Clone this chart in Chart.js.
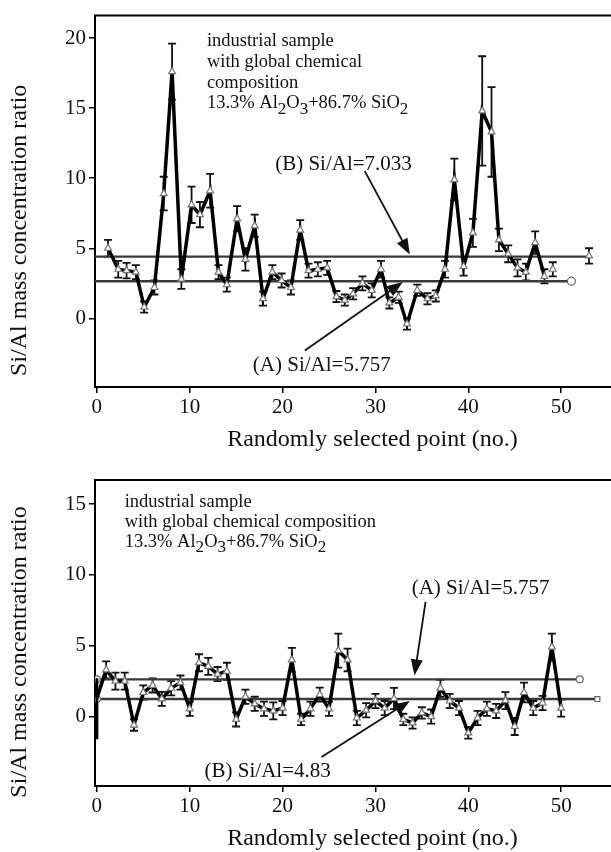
<!DOCTYPE html>
<html>
<head>
<meta charset="utf-8">
<script src="https://cdn.jsdelivr.net/npm/chart.js@4/dist/chart.umd.min.js"></script>
<style>
  html, body { margin: 0; padding: 0; background: #fff; overflow: hidden; }
  .panel { position: absolute; left: 0; }
</style>
</head>
<body>
<div class="panel" style="top:0"><canvas id="topChart" width="660" height="460"></canvas></div>
<div class="panel" style="top:460px"><canvas id="bottomChart" width="660" height="392"></canvas></div>
<script>
// tick labels
const xTicks = [0, 10, 20, 30, 40, 50];
const topYTicks = [0, 5, 10, 15, 20];
const bottomYTicks = [0, 5, 10, 15];

// upper panel: point number (as placed on the axis), Si/Al ratio, error
const topPoint = [1.2, 2.3, 3.2, 4.2, 5.1, 6.2, 7.2, 8.1, 9.1, 10.2,
  11.1, 12.2, 13.1, 14.0, 15.1, 16.0, 17.0, 17.9, 18.9, 19.9,
  20.9, 21.9, 22.8, 23.8, 24.8, 25.8, 26.7, 27.6, 28.6, 29.6,
  30.6, 31.5, 32.5, 33.4, 34.5, 35.6, 36.5, 37.5, 38.5, 39.5,
  40.5, 41.5, 42.5, 43.3, 44.3, 45.3, 46.2, 47.2, 48.2];
const topRatio = [5.0, 3.5, 3.4, 3.3, 0.8, 2.2, 8.9, 17.6, 2.8, 8.1,
  7.4, 9.1, 3.3, 2.4, 7.1, 4.2, 6.6, 1.4, 3.3, 2.7,
  2.2, 6.3, 3.4, 3.5, 3.6, 1.55, 1.3, 1.75, 2.5, 2.0,
  3.5, 1.1, 1.5, -0.4, 2.0, 1.4, 1.6, 3.5, 9.9, 3.7,
  6.1, 14.8, 13.3, 5.6, 4.6, 3.6, 3.3, 5.4, 3.0];
const topErr = [0.6, 0.6, 0.55, 0.5, 0.4, 0.5, 1.2, 2.0, 0.7, 1.3,
  0.9, 1.2, 0.5, 0.5, 0.9, 0.8, 0.8, 0.5, 0.5, 0.5,
  0.5, 0.7, 0.5, 0.5, 0.5, 0.4, 0.4, 0.4, 0.5, 0.5,
  0.6, 0.4, 0.4, 0.4, 0.4, 0.4, 0.4, 0.6, 1.5, 0.65,
  1.0, 3.9, 3.2, 0.8, 0.6, 0.6, 0.6, 0.8, 0.5];
const topLoosePoint = [49.1, 53.0];
const topLooseRatio = [3.5, 4.45];
const topLooseErr = [0.5, 0.55];
const topRefLevel = [2.65, 4.4];   // (A), (B)
const topRefEnd = [51.1, 53.0];

// lower panel
const bottomPoint = [0, 1, 2, 3, 4, 5, 6, 7, 8, 9, 10,
  11, 12, 13, 14, 15, 16, 17, 18, 19, 20,
  21, 22, 23, 24, 25, 26, 27, 28, 29, 30,
  31, 32, 33, 34, 35, 36, 37, 38, 39, 40,
  41, 42, 43, 44, 45, 46, 47, 48, 49, 50];
const bottomRatio = [1.3, 3.3, 2.5, 2.5, -0.6, 1.7, 2.2, 1.25, 2.0, 2.4, 0.55,
  3.8, 3.55, 3.0, 3.2, -0.2, 1.4, 0.9, 0.55, 0.4, 0.6,
  4.0, -0.2, 0.55, 1.55, 0.55, 4.65, 4.0, -0.1, 0.45, 1.1,
  0.6, 1.27, -0.2, -0.45, 0.26, 0.0, 2.0, 1.1, 0.6, -1.15,
  -0.1, 0.55, 0.4, 1.13, -0.7, 1.7, 0.6, 0.96, 4.9, 0.6];
const bottomErr = [0, 0.6, 0.6, 0.6, 0.4, 0.5, 0.5, 0.5, 0.5, 0.5, 0.5,
  0.6, 0.6, 0.5, 0.6, 0.5, 0.5, 0.5, 0.5, 0.6, 0.5,
  0.85, 0.4, 0.5, 0.5, 0.5, 1.2, 0.8, 0.5, 0.5, 0.5,
  0.5, 0.75, 0.4, 0.4, 0.4, 0.5, 0.6, 0.5, 0.5, 0.4,
  0.5, 0.5, 0.5, 0.6, 0.6, 0.7, 0.5, 0.5, 0.95, 0.6];
const bottomStartBar = [2.7, -1.6];
const bottomRefLevel = [2.63, 1.24];   // (A), (B)
const bottomRefEnd = [52.0, 53.9];

const SERIF = '"Liberation Serif", "Times New Roman", serif';
const composition = [{t: '13.3% Al'}, {t: '2', sub: 1}, {t: 'O'}, {t: '3', sub: 1},
  {t: '+86.7% SiO'}, {t: '2', sub: 1}];

function pts(xs, ys) {
  return xs.map((x, i) => ({x: x, y: ys[i]}));
}

function drawRich(ctx, parts, x, y, size) {
  let cx = x;
  parts.forEach(p => {
    ctx.font = (p.sub ? size * 0.92 : size) + 'px ' + SERIF;
    ctx.fillText(p.t, cx, p.sub ? y + size * 0.32 : y);
    cx += ctx.measureText(p.t).width;
  });
}

function arrow(ctx, x1, y1, x2, y2) {
  const a = Math.atan2(y2 - y1, x2 - x1);
  const len = 16, w = 6;
  ctx.beginPath();
  ctx.moveTo(x1, y1);
  ctx.lineTo(x2 - Math.cos(a) * len * 0.8, y2 - Math.sin(a) * len * 0.8);
  ctx.stroke();
  ctx.beginPath();
  ctx.moveTo(x2, y2);
  ctx.lineTo(x2 - Math.cos(a) * len - Math.sin(a) * w, y2 - Math.sin(a) * len + Math.cos(a) * w);
  ctx.lineTo(x2 - Math.cos(a) * len + Math.sin(a) * w, y2 - Math.sin(a) * len - Math.cos(a) * w);
  ctx.closePath();
  ctx.fill();
}

function makePanel(id, p) {
  const extras = {
    id: 'extras',
    beforeDatasetsDraw(chart) {
      const ctx = chart.ctx, sx = chart.scales.x, sy = chart.scales.y;
      ctx.save();
      ctx.strokeStyle = '#111';
      ctx.lineWidth = 1.8;
      p.errSets.forEach(s => {
        s.xs.forEach((x, i) => {
          if (!s.errs[i]) return;
          const px = sx.getPixelForValue(x);
          const t = sy.getPixelForValue(s.ys[i] + s.errs[i]);
          const b = sy.getPixelForValue(s.ys[i] - s.errs[i]);
          ctx.beginPath();
          ctx.moveTo(px, t); ctx.lineTo(px, b);
          ctx.moveTo(px - 4, t); ctx.lineTo(px + 4, t);
          ctx.moveTo(px - 4, b); ctx.lineTo(px + 4, b);
          ctx.stroke();
        });
      });
      ctx.restore();
    },
    afterDraw(chart) {
      const ctx = chart.ctx, a = chart.chartArea, sx = chart.scales.x, sy = chart.scales.y;
      ctx.save();
      // top edge of the frame
      ctx.strokeStyle = '#000';
      ctx.lineWidth = 2;
      ctx.beginPath();
      ctx.moveTo(a.left - 1, a.top);
      ctx.lineTo(a.right, a.top);
      ctx.stroke();

      ctx.fillStyle = '#111';
      ctx.textBaseline = 'middle';
      // axis titles
      ctx.font = '24px ' + SERIF;
      ctx.textAlign = 'center';
      ctx.fillText('Randomly selected point (no.)', (a.left + a.right) / 2 - 2, a.bottom + 53);
      ctx.save();
      ctx.translate(20, (a.top + a.bottom) / 2 + p.yTitleShift);
      ctx.rotate(-Math.PI / 2);
      ctx.fillText('Si/Al mass concentration ratio', 0, 0);
      ctx.restore();

      // sample note
      ctx.textAlign = 'left';
      const nx = sx.getPixelForValue(p.note.x);
      const ny = sy.getPixelForValue(p.note.y);
      p.note.lines.forEach((ln, i) => {
        const y = ny + i * p.note.step;
        if (typeof ln === 'string') {
          ctx.font = '18.5px ' + SERIF;
          ctx.fillText(ln, nx, y);
        } else {
          drawRich(ctx, ln, nx, y, 18.5);
        }
      });

      // labels and arrows
      ctx.font = '21px ' + SERIF;
      ctx.strokeStyle = '#111';
      ctx.lineWidth = 1.8;
      p.labels.forEach(l => {
        ctx.fillText(l.text, sx.getPixelForValue(l.x), sy.getPixelForValue(l.y));
        arrow(ctx, sx.getPixelForValue(l.from[0]), sy.getPixelForValue(l.from[1]),
          sx.getPixelForValue(l.to[0]), sy.getPixelForValue(l.to[1]));
      });
      ctx.restore();
    }
  };

  const tickFont = {family: SERIF, size: 21};
  const axisGrid = {drawOnChartArea: false, drawTicks: true, tickLength: 6, color: '#000', lineWidth: 1.5};

  new Chart(document.getElementById(id), {
    type: 'line',
    data: {datasets: p.datasets},
    options: {
      responsive: false,
      animation: false,
      devicePixelRatio: 1,
      events: [],
      layout: {padding: {top: p.padTop, right: 6, left: 0, bottom: 0}},
      plugins: {legend: {display: false}, tooltip: {enabled: false}},
      scales: {
        x: {
          type: 'linear', min: -0.2, max: 60,
          afterBuildTicks: s => { s.ticks = xTicks.map(v => ({value: v})); },
          afterFit: s => { s.height = p.xHeight; },
          grid: axisGrid,
          border: {display: true, color: '#000', width: 2},
          ticks: {color: '#111', font: tickFont, padding: 2, maxRotation: 0, autoSkip: false}
        },
        y: {
          type: 'linear', min: p.yMin, max: p.yMax,
          afterBuildTicks: s => { s.ticks = p.yTicks.map(v => ({value: v})); },
          afterFit: s => { s.width = 95; },
          grid: axisGrid,
          border: {display: true, color: '#000', width: 2},
          ticks: {color: '#111', font: tickFont, padding: 3, autoSkip: false}
        }
      }
    },
    plugins: [extras]
  });
}

const seriesStyle = {
  borderColor: '#000', borderWidth: 3.5, tension: 0,
  pointStyle: 'triangle', pointRadius: 4,
  pointBackgroundColor: '#fff', pointBorderColor: '#777', pointBorderWidth: 1.2
};
const refStyle = {
  borderColor: '#3a3a3a', borderWidth: 2.4, tension: 0,
  pointBackgroundColor: '#fff', pointBorderColor: '#666', pointBorderWidth: 1.2
};

makePanel('topChart', {
  padTop: 13, xHeight: 73, yMin: -4.9, yMax: 21.6, yTicks: topYTicks, yTitleShift: 29,
  datasets: [
    Object.assign({data: pts(topPoint, topRatio)}, seriesStyle),
    Object.assign({data: pts(topLoosePoint, topLooseRatio), showLine: false}, seriesStyle),
    Object.assign({data: [{x: -0.2, y: topRefLevel[0]}, {x: topRefEnd[0], y: topRefLevel[0]}],
      pointRadius: [0, 4], pointStyle: 'circle'}, refStyle),
    Object.assign({data: [{x: -0.2, y: topRefLevel[1]}, {x: topRefEnd[1], y: topRefLevel[1]}],
      pointRadius: 0}, refStyle)
  ],
  errSets: [
    {xs: topPoint, ys: topRatio, errs: topErr},
    {xs: topLoosePoint, ys: topLooseRatio, errs: topLooseErr}
  ],
  note: {x: 11.85, y: 19.75, step: 20.7,
    lines: ['industrial sample', 'with global chemical', 'composition', composition]},
  labels: [
    {text: '(B) Si/Al=7.033', x: 19.2, y: 11.0, from: [28.85, 10.5], to: [33.7, 4.55]},
    {text: '(A) Si/Al=5.757', x: 16.8, y: -3.35, from: [22.4, -2.3], to: [32.95, 2.6]}
  ]
});

makePanel('bottomChart', {
  padTop: 20, xHeight: 66, yMin: -4.9, yMax: 16.7, yTicks: bottomYTicks, yTitleShift: 19,
  datasets: [
    Object.assign({data: pts(bottomPoint, bottomRatio)}, seriesStyle, {pointRadius: bottomPoint.map(x => x === 0 ? 0 : 4)}),
    {data: [{x: 0, y: bottomStartBar[0]}, {x: 0, y: bottomStartBar[1]}], borderColor: '#000', borderWidth: 3, pointRadius: 0},
    Object.assign({data: [{x: 0, y: bottomRefLevel[0]}, {x: bottomRefEnd[0], y: bottomRefLevel[0]}],
      pointRadius: 3.5, pointStyle: 'circle'}, refStyle),
    Object.assign({data: [{x: 0, y: bottomRefLevel[1]}, {x: bottomRefEnd[1], y: bottomRefLevel[1]}],
      pointRadius: 3.5, pointStyle: ['circle', 'rect']}, refStyle)
  ],
  errSets: [{xs: bottomPoint, ys: bottomRatio, errs: bottomErr}],
  note: {x: 3.0, y: 15.14, step: 20,
    lines: ['industrial sample', 'with global chemical composition', composition]},
  labels: [
    {text: '(A) Si/Al=5.757', x: 33.9, y: 9.07, from: [35.4, 8.1], to: [34.2, 2.9]},
    {text: '(B) Si/Al=4.83', x: 11.6, y: -3.9, from: [24.2, -2.85], to: [33.7, 1.1]}
  ]
});
</script>
</body>
</html>
